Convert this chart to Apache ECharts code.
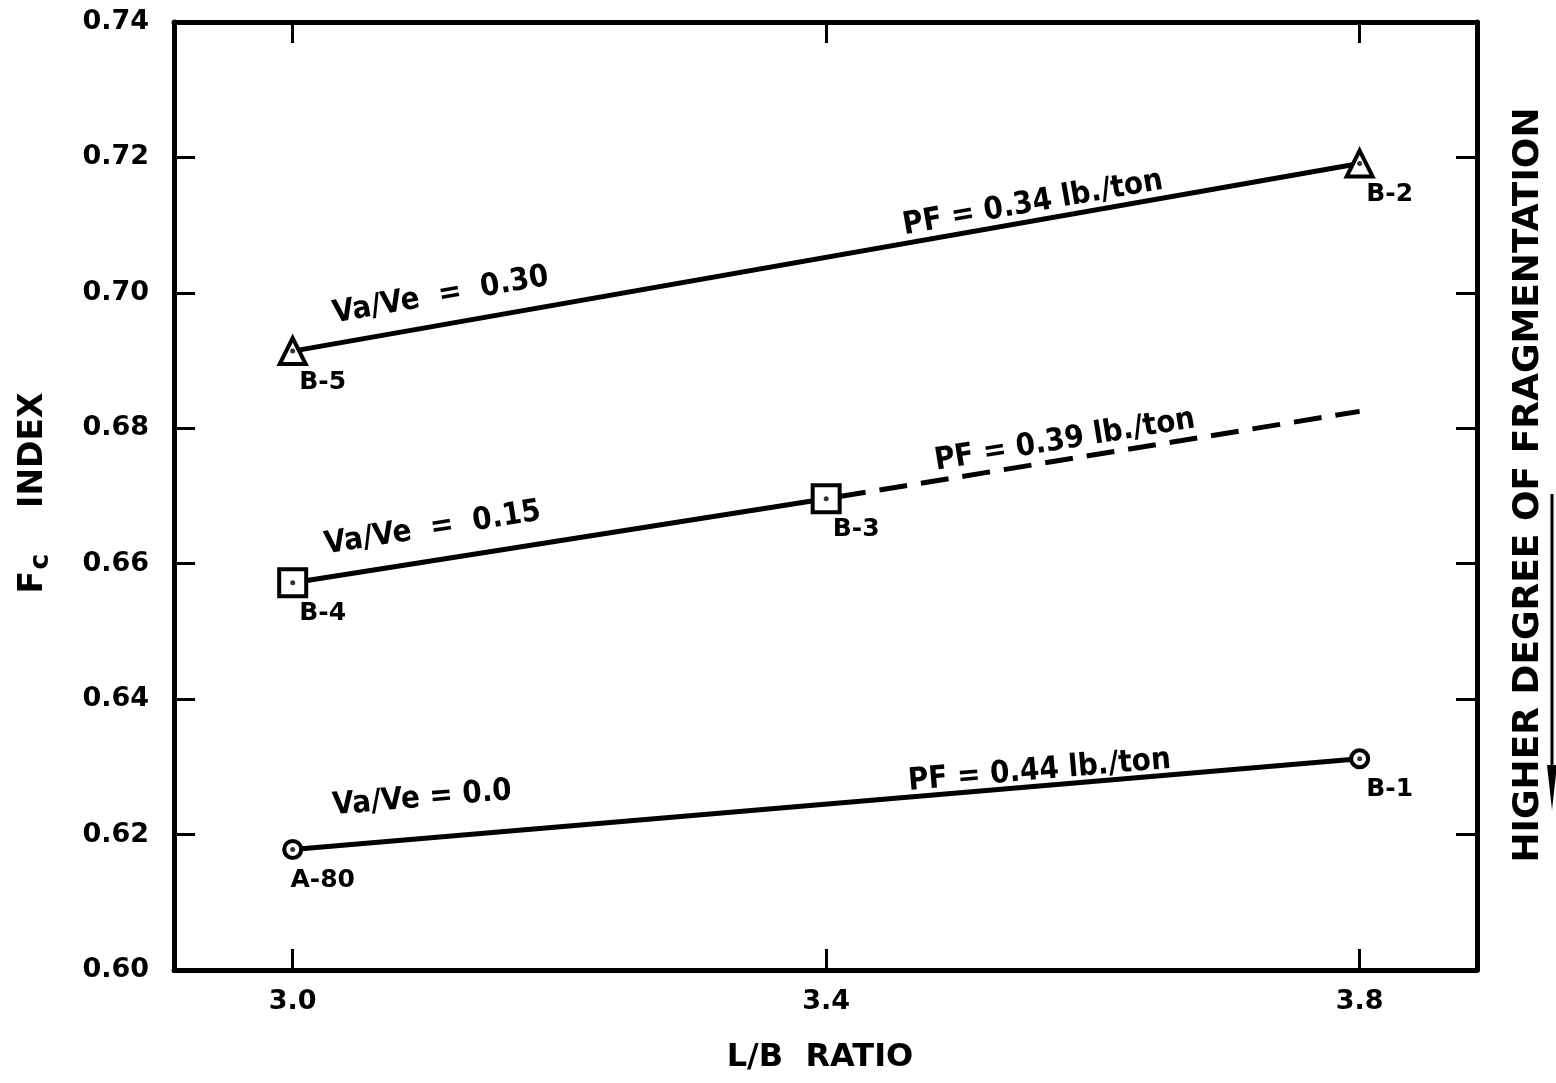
<!DOCTYPE html>
<html>
<head>
<meta charset="utf-8">
<title>Fc index vs L/B ratio</title>
<script src="https://cdn.jsdelivr.net/npm/echarts@6/dist/echarts.min.js"></script>
<style>
    html, body { margin: 0; padding: 0; background: #fff; }
    #chart { width: 1556px; height: 1083px; }
</style>
</head>
<body>
<div id="chart"></div>
<script>
    // data
    var xTicks = [3.0, 3.4, 3.8];
    var va030 = [[3.0, 0.6914], [3.8, 0.7191]];            // B-5, B-2
    var va015 = [[3.0, 0.6572], [3.4, 0.6696]];            // B-4, B-3
    var va015Ext = [[3.4, 0.6696], [3.8, 0.6825]];         // dashed extension
    var va000 = [[3.0, 0.6178], [3.8, 0.6312]];            // A-80, B-1
    var names030 = ['B-5', 'B-2'];
    var names015 = ['B-4', 'B-3'];
    var names000 = ['A-80', 'B-1'];

    // text written along the lines: [text, x, y, line it follows]
    var notes = [
        ['Va/Ve  =  0.30', 3.111, 0.6996, va030],
        ['PF = 0.34 lb./ton', 3.555, 0.7132, va030],
        ['Va/Ve  =  0.15', 3.105, 0.6652, va015],
        ['PF = 0.39 lb./ton', 3.579, 0.6782, va015Ext],
        ['Va/Ve = 0.0', 3.097, 0.6253, va000],
        ['PF = 0.44 lb./ton', 3.560, 0.6294, va000]
    ];

    var FONT = 'DejaVu Sans';
    var NOTE_FONT = 'bold 31px "DejaVu Sans Condensed", "DejaVu Sans"';
    var chart = echarts.init(document.getElementById('chart'));

    function pts(arr, names) {
        return arr.map(function (p, i) {
            return { value: p, name: names[i] };
        });
    }

    var ptLabel = {
        show: true,
        position: 'inside',
        offset: [30, 31],
        formatter: '{b}',
        color: '#000',
        fontFamily: FONT,
        fontWeight: 'bold',
        fontSize: 25
    };

    function xAx(pos, labels) {
        return {
            type: 'value', position: pos, min: 2.911, max: 3.888,
            axisLine: { show: true, lineStyle: { color: '#000', width: 5 } },
            splitLine: { show: false },
            axisTick: { show: true, inside: true, length: 21, customValues: xTicks,
                        lineStyle: { color: '#000', width: 3 } },
            axisLabel: { show: labels, customValues: xTicks, margin: 18,
                         formatter: function (v) { return v.toFixed(1); },
                         color: '#000', fontFamily: FONT, fontWeight: 'bold', fontSize: 27 }
        };
    }
    function yAx(pos, labels) {
        return {
            type: 'value', position: pos, min: 0.60, max: 0.74, interval: 0.02,
            axisLine: { show: true, lineStyle: { color: '#000', width: 5 } },
            splitLine: { show: false },
            axisTick: { show: true, inside: true, length: 21,
                        lineStyle: { color: '#000', width: 3 } },
            axisLabel: { show: labels, margin: 25,
                         formatter: function (v) { return v.toFixed(2); },
                         color: '#000', fontFamily: FONT, fontWeight: 'bold', fontSize: 27 }
        };
    }

    chart.setOption({
        animation: false,
        backgroundColor: '#fff',
        grid: { left: 174, right: 79, top: 22, bottom: 113, containLabel: false },
        xAxis: [xAx('bottom', true), xAx('top', false)],
        yAxis: [yAx('left', true), yAx('right', false)],
        series: [
            {
                type: 'line', data: pts(va030, names030),
                symbol: 'triangle', symbolSize: 26,
                lineStyle: { color: '#000', width: 5 },
                itemStyle: { color: '#fff', borderColor: '#000', borderWidth: 4 },
                label: ptLabel
            },
            {
                type: 'line', data: va015Ext, showSymbol: false, z: 1,
                lineStyle: { color: '#000', width: 5, type: [28, 14], dashOffset: -12 }
            },
            {
                type: 'line', data: pts(va015, names015),
                symbol: 'rect', symbolSize: 27,
                lineStyle: { color: '#000', width: 5 },
                itemStyle: { color: '#fff', borderColor: '#000', borderWidth: 4 },
                label: ptLabel
            },
            {
                type: 'line', data: pts(va000, names000),
                symbol: 'circle', symbolSize: 17,
                lineStyle: { color: '#000', width: 5 },
                itemStyle: { color: '#fff', borderColor: '#000', borderWidth: 4 },
                label: ptLabel
            },
            {
                // centre dots of the markers
                type: 'scatter', z: 5, symbolSize: 5,
                itemStyle: { color: '#000' },
                data: va030.concat(va015, va000)
            }
        ]
    });

    // annotations placed from data coordinates, rotated along their line
    var graphics = notes.map(function (n) {
        var p = chart.convertToPixel({ gridIndex: 0 }, [n[1], n[2]]);
        var a = chart.convertToPixel({ gridIndex: 0 }, n[3][0]);
        var b = chart.convertToPixel({ gridIndex: 0 }, n[3][1]);
        var ang = Math.atan2(a[1] - b[1], b[0] - a[0]);
        return {
            type: 'text', x: p[0], y: p[1], rotation: ang,
            style: { text: n[0], fill: '#000', font: NOTE_FONT,
                     textAlign: 'center', textVerticalAlign: 'middle' }
        };
    });

    graphics.push(
        {
            type: 'text', x: 33, y: 493, rotation: Math.PI / 2,
            style: {
                text: '{f|F}{s|c}{f|    INDEX}',
                textAlign: 'center', textVerticalAlign: 'middle',
                rich: {
                    f: { fontFamily: FONT, fontWeight: 'bold', fontSize: 33, fill: '#000' },
                    s: { fontFamily: FONT, fontWeight: 'bold', fontSize: 27, fill: '#000', padding: [16, 0, 0, 1] }
                }
            }
        },
        {
            type: 'text', x: 820, y: 1058,
            style: { text: 'L/B  RATIO', fill: '#000', font: 'bold 32px "' + FONT + '"',
                     textAlign: 'center', textVerticalAlign: 'middle' }
        },
        {
            type: 'text', x: 1529, y: 485, rotation: Math.PI / 2,
            style: { text: 'HIGHER DEGREE OF FRAGMENTATION', fill: '#000',
                     font: 'bold 36px "' + FONT + '"',
                     textAlign: 'center', textVerticalAlign: 'middle' }
        },
        {
            type: 'line', shape: { x1: 1552, y1: 494, x2: 1552, y2: 770 },
            style: { stroke: '#000', lineWidth: 3 }
        },
        {
            type: 'polygon', shape: { points: [[1547, 765], [1557, 765], [1552, 810]] },
            style: { fill: '#000' }
        }
    );

    chart.setOption({ graphic: graphics });
</script>
</body>
</html>
